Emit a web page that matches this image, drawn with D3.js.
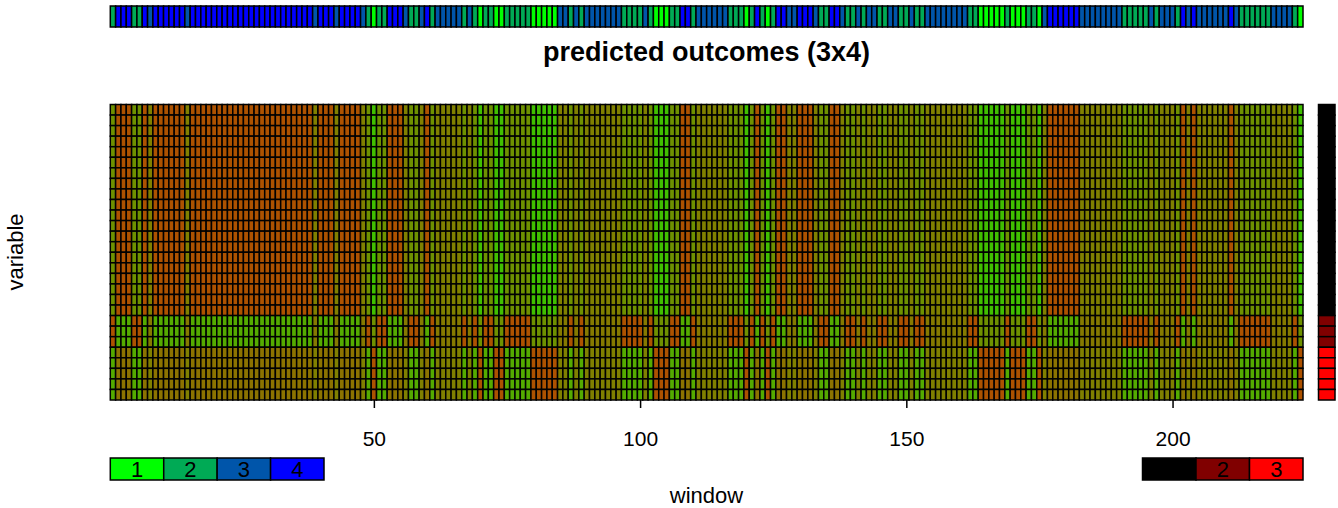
<!DOCTYPE html>
<html>
<head>
<meta charset="utf-8">
<script src="https://cdn.jsdelivr.net/npm/d3@7"></script>
<style>
  html, body { margin: 0; padding: 0; background: #fff; }
  text { font-family: "Liberation Sans", Arial, sans-serif; fill: #000; }
</style>
</head>
<body>
<div id="chart"></div>
<script>
// hidden state of each window, left to right
const windowStates = [
  2,4,4,4,2,2,4,3,4,4,4,4,4,4,3,4,4,4,4,4,4,4,4,4,4,4,4,4,4,4,4,4,4,4,4,4,4,4,3,4,
  4,4,3,4,4,4,4,3,2,1,2,2,4,4,4,3,2,2,3,4,2,3,3,3,3,3,2,3,2,1,2,2,1,1,2,2,2,2,2,1,
  1,1,1,1,3,3,2,3,2,3,3,3,3,3,3,3,2,2,2,2,3,2,1,1,1,2,2,4,4,2,3,3,3,3,3,3,2,2,2,1,
  2,4,2,1,2,4,4,3,3,4,4,4,3,2,2,4,4,3,2,2,3,2,3,3,2,2,3,3,2,2,3,2,2,3,3,3,3,3,3,3,
  3,2,2,1,1,1,1,1,2,1,1,1,2,2,1,3,4,4,4,4,4,4,3,3,3,3,3,3,3,3,2,2,2,2,2,3,2,3,3,3,
  2,4,3,4,3,3,3,3,3,3,4,3,2,2,2,2,2,2,3,3,3,3,2,1
];
// state of each variable, top to bottom
const variableStates = [
  1,1,1,1,1,1,1,1,1,1,1,1,1,1,1,1,1,1,1,1,2,2,2,3,3,3,3,3
];
// predicted outcome: one row per variable state, one column per window state
const outcomes = [
  [0.25, 0.43, 0.50, 0.68],
  [0.43, 0.68, 0.52, 0.33],
  [0.68, 0.33, 0.50, 0.55]
];
const windowTicks = [50, 100, 150, 200];
const windowLegend = [1, 2, 3, 4];
const variableLegend = [1, 2, 3];
const windowColors = ["#00ff00", "#00aa55", "#0055aa", "#0000ff"];
const variableColors = ["#000000", "#800000", "#ff0000"];

const width = 1338;
const height = 508;
const left = 110.3, right = 1303;
const top1 = 104.5, bottom = 400;
const border = "#000";
const lineW = 1.5;

const svg = d3.select("#chart").append("svg")
  .attr("width", width)
  .attr("height", height)
  .style("display", "block");

const windows = windowStates.map((s, i) => ({ index: i + 1, state: s }));
const variables = variableStates.map((s, i) => ({ index: i, state: s }));

// scales
const x = d3.scaleLinear().domain([0.5, windowStates.length + 0.5]).range([left, right]);
const y = d3.scaleBand().domain(d3.range(variableStates.length)).range([top1, bottom]);
const heat = d3.scaleLinear().domain([0, 1]).range(["#00ff00", "#ff0000"]);
const windowColor = d3.scaleOrdinal().domain(windowLegend).range(windowColors);
const variableColor = d3.scaleOrdinal().domain(variableLegend).range(variableColors);
const cellW = x(2) - x(1);

// main grid
const cols = svg.append("g").selectAll("g")
  .data(windows)
  .enter()
  .append("g");

cols.selectAll("rect")
  .data(w => variables.map(v => ({ w: w, v: v })))
  .enter()
  .append("rect")
  .attr("x", d => x(d.w.index - 0.5))
  .attr("y", d => y(d.v.index))
  .attr("width", cellW)
  .attr("height", y.bandwidth())
  .attr("fill", d => heat(outcomes[d.v.state - 1][d.w.state - 1]))
  .attr("stroke", border)
  .attr("stroke-width", lineW);

// strip of window states on top
const stripY = d3.scaleLinear().domain([0, 1]).range([6, 27]);
svg.append("g").selectAll("rect")
  .data(windows)
  .enter()
  .append("rect")
  .attr("x", d => x(d.index - 0.5))
  .attr("y", stripY(0))
  .attr("width", cellW)
  .attr("height", stripY(1) - stripY(0))
  .attr("fill", d => windowColor(d.state))
  .attr("stroke", border)
  .attr("stroke-width", lineW);

// strip of variable states on the right
const stripX = d3.scaleLinear().domain([0, 1]).range([1318.5, 1335]);
svg.append("g").selectAll("rect")
  .data(variables)
  .enter()
  .append("rect")
  .attr("x", stripX(0))
  .attr("y", d => y(d.index))
  .attr("width", stripX(1) - stripX(0))
  .attr("height", y.bandwidth())
  .attr("fill", d => variableColor(d.state))
  .attr("stroke", border)
  .attr("stroke-width", lineW);

// window axis
const axis = d3.axisBottom(x).tickValues(windowTicks).tickSize(8).tickPadding(23);
const axisG = svg.append("g")
  .attr("transform", `translate(0,${bottom})`)
  .call(axis);
axisG.select(".domain").remove();
axisG.selectAll("line").attr("stroke", "#000").attr("stroke-width", lineW);
axisG.selectAll("text").attr("font-size", 21).attr("font-family", null);

// legends
function drawLegend(keys, color, x0, x1) {
  const band = d3.scaleBand().domain(keys).range([x0, x1]);
  const g = svg.append("g");
  g.selectAll("rect")
    .data(keys)
    .enter()
    .append("rect")
    .attr("x", d => band(d))
    .attr("y", 458)
    .attr("width", band.bandwidth())
    .attr("height", 22)
    .attr("fill", d => color(d))
    .attr("stroke", border)
    .attr("stroke-width", lineW);
  g.selectAll("text")
    .data(keys)
    .enter()
    .append("text")
    .attr("x", d => band(d) + band.bandwidth() / 2)
    .attr("y", 477)
    .attr("text-anchor", "middle")
    .attr("font-size", 22)
    .text(d => d);
}
drawLegend(windowLegend, windowColor, 110.3, 324);
drawLegend(variableLegend, variableColor, 1142.5, 1303);

// titles
svg.append("text")
  .attr("x", 706.5)
  .attr("y", 61)
  .attr("text-anchor", "middle")
  .attr("font-size", 27)
  .attr("font-weight", "bold")
  .text("predicted outcomes (3x4)");

svg.append("text")
  .attr("x", 706.5)
  .attr("y", 503)
  .attr("text-anchor", "middle")
  .attr("font-size", 22)
  .text("window");

svg.append("text")
  .attr("transform", "translate(23,252) rotate(-90)")
  .attr("text-anchor", "middle")
  .attr("font-size", 22)
  .text("variable");
</script>
</body>
</html>
